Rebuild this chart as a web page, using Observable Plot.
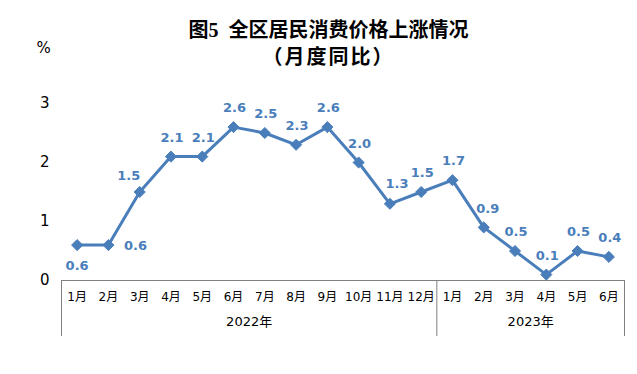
<!DOCTYPE html>
<html><head><meta charset="utf-8">
<script src="https://cdn.jsdelivr.net/npm/d3@7"></script>
<script src="https://cdn.jsdelivr.net/npm/@observablehq/plot@0.6"></script>
<style>
body{margin:0;background:#fff;}
#wrap{position:relative;width:637px;height:374px;}
#title{position:absolute;left:0;top:0;width:617px;padding-left:20px;padding-top:18px;text-align:center;font-family:"Liberation Serif","Noto Sans CJK SC",serif;font-weight:bold;font-size:20px;line-height:25px;color:#000;white-space:pre;}
#title .sub{letter-spacing:2px;font-family:"Noto Sans CJK SC",sans-serif;}
</style></head><body>
<div id="wrap"><div id="chart"></div><div id="title">图5  全区居民消费价格上涨情况
<span class="sub">（月度同比）</span></div></div>
<script>
const months = ["1月","2月","3月","4月","5月","6月","7月","8月","9月","10月","11月","12月","1月","2月","3月","4月","5月","6月"];
const years = ["2022年","2023年"];
const monthsPerYear = [12, 6];
const values = [0.6,0.6,1.5,2.1,2.1,2.6,2.5,2.3,2.6,2.0,1.3,1.5,1.7,0.9,0.5,0.1,0.5,0.4];
const yTicks = [0,1,2,3];
const unitLabel = "%";

const data = values.map((v, k) => ({i: k + 1, v, label: v.toFixed(1)}));
const n = values.length;
const bounds = [0.5];
monthsPerYear.forEach(m => bounds.push(bounds[bounds.length - 1] + m));
const yearData = years.map((y, k) => ({x: (bounds[k] + bounds[k + 1]) / 2, y}));

const height = 374, marginTop = 103, marginBottom = 94;
const plotH = height - marginTop - marginBottom;
const boxDepthPx = 56;
const boxBottom = -boxDepthPx * (yTicks[yTicks.length - 1] - yTicks[0]) / plotH;

const blue = "#4a7ebb";
const labelFont = {fill: blue, fontSize: 13, fontWeight: "bold", fontFamily: "DejaVu Sans"};
const placements = [
  {sel: [1], dx: 0, dy: 21},
  {sel: [2], dx: 27, dy: 1},
  {sel: [3], dx: -11, dy: -16},
  {sel: [11], dx: 7, dy: -20},
  {sel: [14], dx: 4, dy: -19},
];
const special = new Set(placements.flatMap(p => p.sel));

const chart = Plot.plot({
  width: 637, height, marginTop, marginBottom, marginLeft: 61, marginRight: 13,
  style: {fontFamily: "DejaVu Sans, Noto Sans CJK SC", background: "transparent"},
  x: {domain: [0.5, n + 0.5]},
  y: {domain: [yTicks[0], yTicks[yTicks.length - 1]]},
  marks: [
    Plot.axisY({ticks: yTicks, tickSize: 0, tickPadding: 12, fontSize: 15, label: null, tickFormat: d => String(d), fill: "#000"}),
    Plot.axisX({ticks: d3.range(1, n + 1), tickSize: 0, tickPadding: 12, fontSize: 12, label: null, tickFormat: d => months[d - 1], fill: "#000"}),
    Plot.text([unitLabel], {frameAnchor: "top-left", textAnchor: "middle", lineAnchor: "middle", dx: -18, dy: -55, fontSize: 15, fill: "#000"}),
    Plot.ruleY([0], {x1: bounds[0], x2: bounds[bounds.length - 1], stroke: "#808080", strokeWidth: 1}),
    Plot.ruleX(bounds, {y1: 0, y2: boxBottom, stroke: "#808080", strokeWidth: 1}),
    Plot.text(yearData, {x: "x", y: 0, text: "y", dy: 41, fontSize: 13, fill: "#000"}),
    Plot.line(data, {x: "i", y: "v", stroke: blue, strokeWidth: 3}),
    Plot.dot(data, {x: "i", y: "v", symbol: "diamond2", r: 5, fill: blue, stroke: blue, strokeWidth: 1}),
    ...placements.map(p => Plot.text(data.filter(d => p.sel.includes(d.i)), {x: "i", y: "v", text: "label", dx: p.dx, dy: p.dy, ...labelFont})),
    Plot.text(data.filter(d => !special.has(d.i)), {x: "i", y: "v", text: "label", dx: 1, dy: -19, ...labelFont}),
  ]
});
document.getElementById("chart").appendChild(chart);
</script>
</body></html>
